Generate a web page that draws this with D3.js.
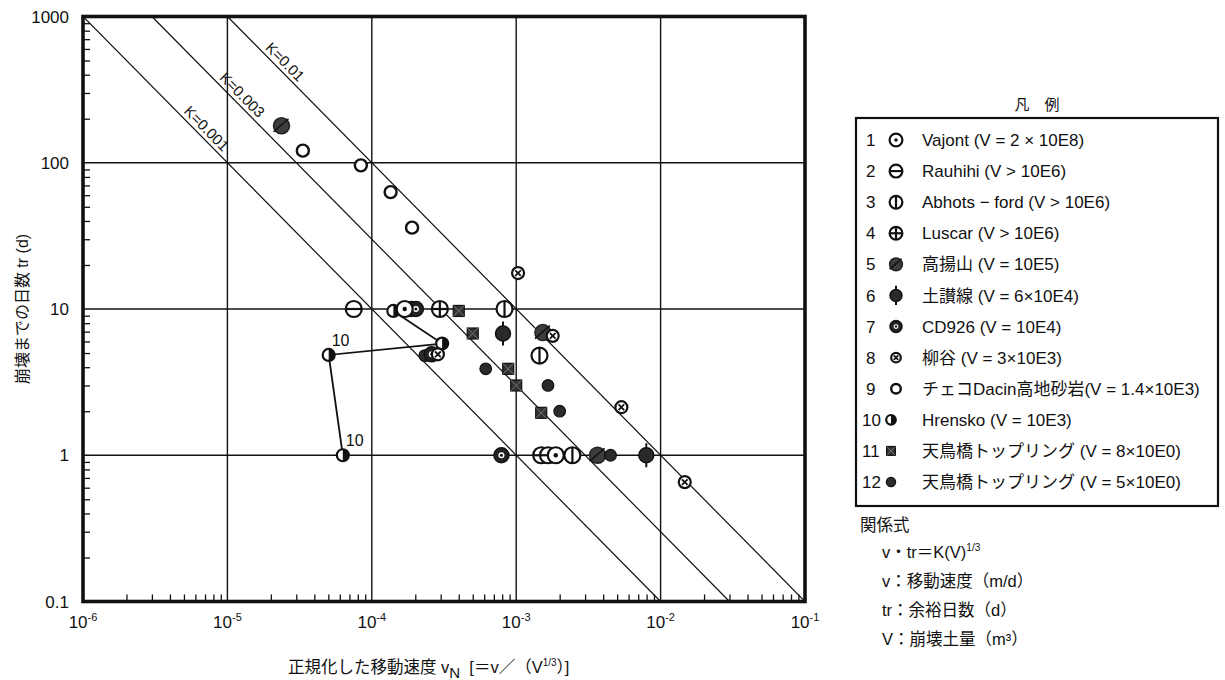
<!DOCTYPE html>
<html>
<head>
<meta charset="utf-8">
<script src="https://cdn.jsdelivr.net/npm/d3@7"></script>
<style>
  body { margin: 0; background: #fff; }
  svg text { font-family: "Liberation Sans", "Noto Sans CJK JP", sans-serif; fill: #111; }
</style>
</head>
<body>
<div id="chart"></div>
<script>
const width = 1225;
const height = 680;
var plot = {left: 83, right: 805, top: 16.5, bottom: 601.5};

// ********* DATA *********
// each point is [vN, tr]
const vajont   = [[1.88e-3, 1], [1.69e-4, 10]];
const rauhihi  = [[7.5e-5, 10], [1.49e-3, 1], [1.66e-3, 1]];
const abhots   = [[8.3e-4, 10], [1.45e-3, 4.8], [2.45e-3, 1]];
const luscar   = [[2.96e-4, 10]];
const takaage  = [[2.37e-5, 179], [1.53e-3, 6.9], [3.66e-3, 1]];
const dosan    = [[8.1e-4, 6.8], [7.96e-3, 1]];
const cd926    = [[7.9e-4, 1], [1.88e-4, 10], [2.02e-4, 10], [2.6e-4, 4.9]];
const yanagi   = [[1.03e-3, 17.6], [5.35e-3, 2.13], [1.47e-2, 0.655], [1.79e-3, 6.55], [2.87e-4, 4.9]];
const dacin    = [[3.33e-5, 121], [8.4e-5, 96], [1.35e-4, 63], [1.9e-4, 36]];
const hrensko  = [[1.41e-4, 9.7], [3.07e-4, 5.8], [5.03e-5, 4.85], [6.3e-5, 1]];
const hrenskoLabelled = [2, 3];   // points carrying the "10" tag
const tentori8 = [[4.0e-4, 9.7], [5.0e-4, 6.8], [8.8e-4, 3.9], [1.0e-3, 3.0], [1.49e-3, 1.95]];
const tentori5 = [[2.33e-4, 4.8], [6.15e-4, 3.9], [1.66e-3, 3.0], [2.0e-3, 2.0], [4.5e-3, 1]];

const series = [rauhihi, takaage, dacin, hrensko, luscar, abhots, tentori8, tentori5, dosan, cd926, yanagi, vajont];
const seriesType = [2, 5, 9, 10, 4, 3, 11, 12, 6, 7, 8, 1];

const legendLabels = [
  "Vajont (V = 2 × 10E8)",
  "Rauhihi (V > 10E6)",
  "Abhots − ford (V > 10E6)",
  "Luscar (V > 10E6)",
  "高揚山 (V = 10E5)",
  "土讃線 (V = 6×10E4)",
  "CD926 (V = 10E4)",
  "柳谷 (V = 3×10E3)",
  "チェコDacin高地砂岩(V = 1.4×10E3)",
  "Hrensko (V = 10E3)",
  "天鳥橋トップリング (V = 8×10E0)",
  "天鳥橋トップリング (V = 5×10E0)"
];

const kValues = [0.01, 0.003, 0.001];
const kLabels = ["K=0.01", "K=0.003", "K=0.001"];
const kLabelAt = [2.26e-5, 1.14e-5, 6.45e-6];   // vN where each label sits

const xTicks = [1e-6, 1e-5, 1e-4, 1e-3, 1e-2, 1e-1];
const xTickExp = ["-6", "-5", "-4", "-3", "-2", "-1"];
const yTicks = [0.1, 1, 10, 100, 1000];
const yTickLabels = ["0.1", "1", "10", "100", "1000"];

const relationLines = ["v：移動速度（m/d）", "tr：余裕日数（d）", "V：崩壊土量（m³）"];

// ********* SVG *********
var svg = d3.select("#chart").append("svg")
  .attr("width", width)
  .attr("height", height);

var x_scale = d3.scaleLog().domain([1e-6, 1e-1]).range([plot.left, plot.right]);
var y_scale = d3.scaleLog().domain([0.1, 1000]).range([plot.bottom, plot.top]);

svg.append("defs").append("clipPath").attr("id", "clip")
  .append("rect")
  .attr("x", plot.left).attr("y", plot.top)
  .attr("width", plot.right - plot.left).attr("height", plot.bottom - plot.top);

// ******** GRID *********
var grid = svg.append("g");
grid.selectAll(".vg").data(xTicks.slice(1, -1)).enter().append("line")
  .attr("x1", d => x_scale(d)).attr("x2", d => x_scale(d))
  .attr("y1", plot.top).attr("y2", plot.bottom)
  .attr("stroke", "#111").attr("stroke-width", 1.4);
grid.selectAll(".hg").data(yTicks.slice(1, -1)).enter().append("line")
  .attr("y1", d => y_scale(d)).attr("y2", d => y_scale(d))
  .attr("x1", plot.left).attr("x2", plot.right)
  .attr("stroke", "#111").attr("stroke-width", 1.4);

// minor ticks, pointing inward
var xMinor = [], yMinor = [];
for (var e = -6; e < -1; e++) for (var m = 2; m < 10; m++) xMinor.push(m * Math.pow(10, e));
for (var e = -1; e < 3; e++) for (var m = 2; m < 10; m++) yMinor.push(m * Math.pow(10, e));

svg.append("g")
  .attr("transform", `translate(0, ${plot.bottom})`)
  .call(d3.axisBottom(x_scale).tickValues(xMinor).tickSize(-7).tickFormat(""))
  .call(g => g.select(".domain").remove())
  .selectAll("line").attr("stroke", "#111").attr("stroke-width", 1.3);
svg.append("g")
  .attr("transform", `translate(${plot.left}, 0)`)
  .call(d3.axisLeft(y_scale).tickValues(yMinor).tickSize(-7).tickFormat(""))
  .call(g => g.select(".domain").remove())
  .selectAll("line").attr("stroke", "#111").attr("stroke-width", 1.3);

// ******** K LINES *********
var kg = svg.append("g").attr("clip-path", "url(#clip)");
kValues.forEach(function(k) {
  var v0 = Math.max(1e-6, k / 1000), v1 = Math.min(1e-1, k / 0.1);
  kg.append("line")
    .attr("x1", x_scale(v0)).attr("y1", y_scale(k / v0))
    .attr("x2", x_scale(v1)).attr("y2", y_scale(k / v1))
    .attr("stroke", "#111").attr("stroke-width", 1.2);
});
var angle = Math.atan2(y_scale(0.1) - y_scale(1), x_scale(1e-2) - x_scale(1e-3)) * 180 / Math.PI;
kValues.forEach(function(k, i) {
  var px = x_scale(kLabelAt[i]), py = y_scale(k / kLabelAt[i]);
  svg.append("text")
    .attr("transform", `translate(${px},${py}) rotate(${angle})`)
    .attr("dy", -4)
    .attr("text-anchor", "middle")
    .style("font-size", "15px")
    .text(kLabels[i]);
});

// ******** MARKERS *********
function drawMarker(g, type, s) {
  s = s || 1;
  var black = "#111";
  var sw = 2.2;
  if (type === 1 || type === 2 || type === 3 || type === 4) {
    var r = 8 * s;
    g.append("circle").attr("r", r).attr("fill", "#fff").attr("stroke", black).attr("stroke-width", sw);
    if (type === 1) g.append("circle").attr("r", 2.2 * s).attr("fill", black);
    if (type === 2 || type === 4) g.append("line").attr("x1", -r).attr("x2", r).attr("stroke", black).attr("stroke-width", sw);
    if (type === 3 || type === 4) g.append("line").attr("y1", -r).attr("y2", r).attr("stroke", black).attr("stroke-width", sw);
  } else if (type === 5) {
    g.append("circle").attr("r", 8 * s).attr("fill", "#3d3d3d").attr("stroke", "#222").attr("stroke-width", 1.5);
    g.append("line").attr("x1", -8 * s).attr("y1", 6 * s).attr("x2", 7 * s).attr("y2", -7 * s)
      .attr("stroke", "#111").attr("stroke-width", 1.6);
  } else if (type === 6) {
    g.append("line").attr("y1", -12 * s).attr("y2", 12 * s).attr("stroke", black).attr("stroke-width", 2);
    g.append("circle").attr("r", 7.5 * s).attr("fill", "#2a2a2a").attr("stroke", black).attr("stroke-width", 1.5);
  } else if (type === 7) {
    g.append("circle").attr("r", 7.5 * s).attr("fill", "#222").attr("stroke", black).attr("stroke-width", 1.5);
    g.append("circle").attr("r", 3 * s).attr("fill", "#fff");
    g.append("circle").attr("r", 1.5 * s).attr("fill", black);
  } else if (type === 8) {
    var r8 = 6 * s, d = 2.8 * s;
    g.append("circle").attr("r", r8).attr("fill", "#fff").attr("stroke", black).attr("stroke-width", 2.2);
    g.append("path").attr("d", `M${-d},${-d}L${d},${d}M${-d},${d}L${d},${-d}`)
      .attr("stroke", black).attr("stroke-width", 1.8);
  } else if (type === 9) {
    g.append("circle").attr("r", 6 * s).attr("fill", "#fff").attr("stroke", black).attr("stroke-width", 2.4);
  } else if (type === 10) {
    var r10 = 6 * s;
    g.append("circle").attr("r", r10).attr("fill", "#fff").attr("stroke", black).attr("stroke-width", 2.2);
    g.append("path").attr("d", `M0,${-r10}A${r10},${r10} 0 0 1 0,${r10}Z`).attr("fill", black);
  } else if (type === 11) {
    var h = 5.5 * s;
    g.append("rect").attr("x", -h).attr("y", -h).attr("width", 2 * h).attr("height", 2 * h)
      .attr("fill", "#333").attr("stroke", "#111").attr("stroke-width", 1.2);
    g.append("path").attr("d", `M${-h},${-h}L${h},${h}M${-h},${h}L${h},${-h}`)
      .attr("stroke", "#777").attr("stroke-width", 1);
  } else if (type === 12) {
    g.append("circle").attr("r", 5.8 * s).attr("fill", "#2b2b2b").attr("stroke", "#111").attr("stroke-width", 1.2);
  }
}

var marks = svg.append("g");

// Hrensko path
marks.append("path")
  .datum(hrensko)
  .attr("fill", "none")
  .attr("stroke", "#111")
  .attr("stroke-width", 1.8)
  .attr("d", d3.line().x(d => x_scale(d[0])).y(d => y_scale(d[1])));
hrenskoLabelled.forEach(function(i) {
  marks.append("text")
    .attr("x", x_scale(hrensko[i][0]) + 3)
    .attr("y", y_scale(hrensko[i][1]) - 9)
    .style("font-size", "16px")
    .text("10");
});

series.forEach(function(pts, si) {
  marks.selectAll(null).data(pts).enter().append("g")
    .attr("transform", d => `translate(${x_scale(d[0])},${y_scale(d[1])})`)
    .each(function() { drawMarker(d3.select(this), seriesType[si]); });
});

// ******** FRAME *********
svg.append("rect")
  .attr("x", plot.left).attr("y", plot.top)
  .attr("width", plot.right - plot.left).attr("height", plot.bottom - plot.top)
  .attr("fill", "none").attr("stroke", "#111").attr("stroke-width", 3.6);

// ******** AXIS LABELS *********
svg.selectAll(".ylab").data(yTicks).enter().append("text")
  .attr("x", 69).attr("y", d => y_scale(d))
  .attr("dy", "0.36em")
  .attr("text-anchor", "end")
  .style("font-size", "17px")
  .text((d, i) => yTickLabels[i]);

var xl = svg.selectAll(".xlab").data(xTicks).enter().append("text")
  .attr("x", d => x_scale(d)).attr("y", 628)
  .attr("text-anchor", "middle")
  .style("font-size", "17px");
xl.append("tspan").text("10");
xl.append("tspan").attr("dy", -7).style("font-size", "11px").text((d, i) => xTickExp[i]);

svg.append("text")
  .attr("transform", `translate(28, ${(plot.top + plot.bottom) / 2}) rotate(-90)`)
  .attr("text-anchor", "middle")
  .style("font-size", "16px")
  .text("崩壊までの日数 tr (d)");

var xt = svg.append("text")
  .attr("x", 288).attr("y", 673)
  .style("font-size", "16.5px");
xt.append("tspan").text("正規化した移動速度 v");
xt.append("tspan").attr("dy", 5).style("font-size", "15px").text("N");
xt.append("tspan").attr("dy", -5).attr("xml:space", "preserve").text("  [＝v／（V");
xt.append("tspan").attr("dy", -7).style("font-size", "10px").text("1/3");
xt.append("tspan").attr("dy", 7).text("）]");

// ******** LEGEND *********
var lg = svg.append("g");
lg.append("text")
  .attr("x", 1037).attr("y", 110)
  .attr("text-anchor", "middle")
  .style("font-size", "15px")
  .text("凡　例");
lg.append("rect")
  .attr("x", 856).attr("y", 118).attr("width", 362).attr("height", 388)
  .attr("fill", "none").attr("stroke", "#111").attr("stroke-width", 2.2);

var rowY = d3.scaleLinear().domain([0, 11]).range([140, 482]);
var entry = lg.selectAll(".entry").data(legendLabels).enter().append("g")
  .attr("transform", (d, i) => `translate(0, ${rowY(i)})`);
entry.append("text")
  .attr("x", (d, i) => i < 9 ? 866 : 862).attr("dy", "0.36em")
  .style("font-size", "17px")
  .text((d, i) => i + 1);
entry.append("g")
  .attr("transform", (d, i) => `translate(${i < 9 ? 896 : 891}, 0)`)
  .each(function(d, i) { drawMarker(d3.select(this), i + 1, 0.8); });
entry.append("text")
  .attr("x", 922).attr("dy", "0.36em")
  .style("font-size", "17px")
  .text(d => d);

// ******** RELATION *********
var rel = svg.append("g");
rel.append("text").attr("x", 860).attr("y", 531).style("font-size", "16.5px").text("関係式");
var f = rel.append("text").attr("x", 882).attr("y", 558).style("font-size", "16.5px");
f.append("tspan").text("v・tr＝K(V)");
f.append("tspan").attr("dy", -7).style("font-size", "10px").text("1/3");
rel.selectAll(".rl").data(relationLines).enter().append("text")
  .attr("x", 882).attr("y", (d, i) => 587 + i * 29)
  .style("font-size", "16.5px")
  .text(d => d);
</script>
</body>
</html>
